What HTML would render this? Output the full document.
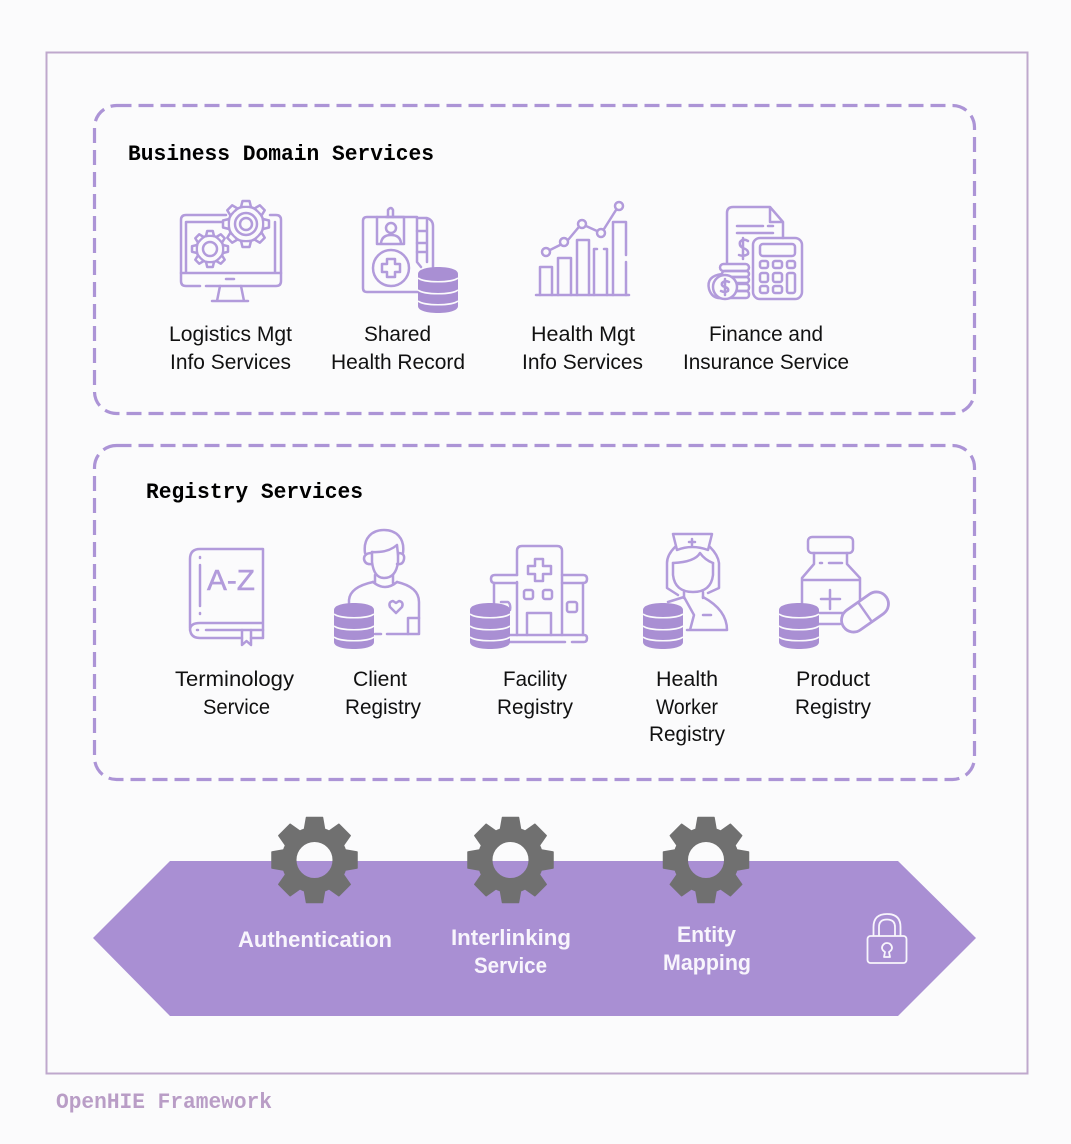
<!DOCTYPE html>
<html>
<head>
<meta charset="utf-8">
<style>
html,body{margin:0;padding:0;background:#fbfbfc;}
svg{display:block;}
.l{font-family:"Liberation Sans",sans-serif;font-size:21px;fill:#111;}
.b{font-family:"Liberation Sans",sans-serif;font-size:22px;font-weight:bold;fill:#f8f5fc;}
.t{font-family:"Liberation Mono",monospace;font-size:22px;font-weight:bold;fill:#000;}
.i{fill:none;stroke:#b29bdb;stroke-width:2.5;stroke-linecap:round;stroke-linejoin:round;}
</style>
</head>
<body>
<svg xmlns="http://www.w3.org/2000/svg" width="1071" height="1144" viewBox="0 0 1071 1144">
<defs>
  <filter id="s" x="-5%" y="-5%" width="110%" height="110%"><feGaussianBlur stdDeviation="0.35"/></filter>
  <g id="db">
    <path d="M0 7C0 2 10 0 20 0S40 2 40 7V39C40 44 30 46 20 46S0 44 0 39Z" fill="#a98fd3"/>
    <path d="M0 11C6 16 34 16 40 11M0 23C6 28 34 28 40 23M0 34C6 39 34 39 40 34" fill="none" stroke="#fbfbfc" stroke-width="1.6"/>
  </g>
  <polygon id="gt" points="-10,-31 -8,-42.500 8,-42.500 10,-31" fill="#707070" stroke="#707070" stroke-width="1.500" stroke-linejoin="round"/>
  <g id="gear">
    <circle r="25.500" fill="none" stroke="#707070" stroke-width="15"/>
    <use href="#gt"/><use href="#gt" transform="rotate(45)"/><use href="#gt" transform="rotate(90)"/><use href="#gt" transform="rotate(135)"/>
    <use href="#gt" transform="rotate(180)"/><use href="#gt" transform="rotate(225)"/><use href="#gt" transform="rotate(270)"/><use href="#gt" transform="rotate(315)"/>
  </g>
  <polygon id="bt" points="-5,-17 -3.500,-23 3.500,-23 5,-17" fill="#fbfbfc" stroke="#b29bdb" stroke-width="2.500" stroke-linejoin="round"/>
  <g id="gbig">
    <circle r="17.500" fill="#fbfbfc" stroke="#b29bdb" stroke-width="2.500"/>
    <use href="#bt"/><use href="#bt" transform="rotate(45)"/><use href="#bt" transform="rotate(90)"/><use href="#bt" transform="rotate(135)"/>
    <use href="#bt" transform="rotate(180)"/><use href="#bt" transform="rotate(225)"/><use href="#bt" transform="rotate(270)"/><use href="#bt" transform="rotate(315)"/>
    <circle r="16" fill="#fbfbfc"/>
  </g>
  <polygon id="st" points="-4,-13 -2.800,-18 2.800,-18 4,-13" fill="#fbfbfc" stroke="#b29bdb" stroke-width="2.500" stroke-linejoin="round"/>
  <g id="gsmall">
    <circle r="13.500" fill="#fbfbfc" stroke="#b29bdb" stroke-width="2.500"/>
    <use href="#st"/><use href="#st" transform="rotate(45)"/><use href="#st" transform="rotate(90)"/><use href="#st" transform="rotate(135)"/>
    <use href="#st" transform="rotate(180)"/><use href="#st" transform="rotate(225)"/><use href="#st" transform="rotate(270)"/><use href="#st" transform="rotate(315)"/>
    <circle r="12" fill="#fbfbfc"/>
  </g>
</defs>

<rect width="1071" height="1144" fill="#fbfbfc"/>
<rect x="46.500" y="52.500" width="981" height="1021" fill="none" stroke="#bfa8cd" stroke-width="2"/>
<rect x="94.500" y="105.500" width="880" height="308" rx="22" fill="none" stroke="#ac94d6" stroke-width="3.200" stroke-dasharray="15 7"/>
<rect x="94.500" y="445.500" width="880" height="334" rx="22" fill="none" stroke="#ac94d6" stroke-width="3.200" stroke-dasharray="15 7"/>

<text class="t" x="128" y="160" textLength="306" lengthAdjust="spacingAndGlyphs">Business Domain Services</text>
<text class="t" x="146" y="498" textLength="217" lengthAdjust="spacingAndGlyphs">Registry Services</text>
<text class="t" x="56" y="1108" textLength="216" lengthAdjust="spacingAndGlyphs" style="fill:#b99dc6">OpenHIE Framework</text>

<g filter="url(#s)">
<!-- Monitor icon -->
<g class="i">
  <path d="M226 215H186Q181 215 181 220V281Q181 286 186 286H200M206 286H276Q281 286 281 281V220Q281 215 276 215H270"/>
  <path d="M186 273V222H224M275 222V273M181 273H281M226 279H234"/>
  <path d="M220 286L217 301M241 286L244 301M212 301H248"/>
</g>
<use href="#gbig" x="246" y="224"/>
<circle cx="246" cy="224" r="11" class="i"/>
<circle cx="246" cy="224" r="6" class="i"/>
<use href="#gsmall" x="210" y="249"/>
<circle cx="210" cy="249" r="7" class="i"/>

<!-- Shared record icon -->
<g class="i">
  <path d="M377 217H367Q363 217 363 221V288Q363 292 367 292H418"/>
  <path d="M386 217H417V262L421 267"/>
  <path d="M417 218H427Q433 220 433 226V267M427 219V262M417 231H427M417 243H427M417 252H427"/>
  <path d="M388 217V210Q391 206 393 210V217"/>
  <rect x="377" y="217" width="27" height="27"/>
  <circle cx="391" cy="228" r="5"/>
  <path d="M381 243Q382 235 391 235Q400 235 401 243"/>
  <circle cx="391" cy="268" r="18"/>
  <path d="M387 259H395V264H400V272H395V277H387V272H382V264H387Z"/>
</g>
<use href="#db" x="418" y="267"/>

<!-- Chart icon -->
<g class="i">
  <path d="M536 295H629"/>
  <path d="M540 295V267H552V295M558 295V258H571V295M577 295V240H589V295M594 295V249H597M604 249H607V295M613 295V222H626V255M626 262V295"/>
  <path d="M550 250L560 245M568 240L578 228M586 226L597 231M604 229L616 210"/>
  <circle cx="546" cy="252" r="4"/><circle cx="564" cy="242" r="4"/><circle cx="582" cy="224" r="4"/><circle cx="601" cy="233" r="4"/><circle cx="619" cy="206" r="4"/>
</g>

<!-- Finance icon -->
<g class="i">
  <path d="M727 263V213Q727 207 733 207H770L783 222V238M770 207V222H783"/>
  <path d="M737 226H763M768 226H773M737 233H773"/>
  <path d="M748 241Q743 238 740 242Q739 246 743 248Q749 250 748 254Q744 257 739 255M743 238V259"/>
  <rect x="753" y="238" width="49" height="61" rx="7"/>
  <rect x="760" y="244" width="35" height="12" rx="3"/>
  <rect x="760" y="261" width="8" height="7" rx="2"/><rect x="773" y="261" width="9" height="7" rx="2"/><rect x="787" y="261" width="8" height="7" rx="2"/>
  <rect x="760" y="273" width="8" height="9" rx="2"/><rect x="773" y="273" width="9" height="9" rx="2"/><rect x="787" y="273" width="8" height="20" rx="2"/>
  <rect x="760" y="286" width="8" height="7" rx="2"/><rect x="773" y="286" width="9" height="7" rx="2"/>
  <rect x="720" y="264" width="29" height="7" rx="3.500"/>
  <rect x="722" y="271" width="27" height="6" rx="3"/>
  <rect x="722" y="277" width="27" height="6" rx="3"/>
  <rect x="722" y="284" width="27" height="7" rx="3"/>
  <rect x="722" y="291" width="27" height="7" rx="3"/>
  <path d="M722 274Q706 276 709 289Q712 299 722 298" fill="#fbfbfc"/>
  <circle cx="725" cy="287" r="12" fill="#fbfbfc"/>
  <path d="M729 282Q725 280 722 283Q721 286 725 287Q729 288 728 291Q725 293 721 291M725 279V295"/>
</g>

<!-- Book icon -->
<g class="i">
  <path d="M263 549H200Q190 549 190 559V628Q190 638 200 638H242M251 638H263V623H200Q190 623 190 630M263 623V549"/>
  <path d="M200 557V558M200 565V606M200 613V614M197 630H198M206 630H263"/>
  <path d="M242 630V645L246.500 641L251 645V630"/>
</g>
<text x="207" y="590" textLength="48" lengthAdjust="spacingAndGlyphs" style="font-family:'Liberation Sans',sans-serif;font-size:29px;fill:#b29bdb;stroke:#b29bdb;stroke-width:.5">A-Z</text>

<!-- Client icon -->
<g class="i">
  <path d="M365 553C363 538 372 530 384 530C396 530 405 538 403 553"/>
  <path d="M372 552Q388 553 397 545L398 555"/>
  <path d="M372 552V562Q374 578 384 578Q396 578 398 562V555"/>
  <path d="M372 553Q364 553 364 559Q365 565 372 564M398 553Q405 553 404 559Q403 565 397 564"/>
  <path d="M375 575V583M393 575V583M373 582Q385 592 397 582"/>
  <path d="M349 603V600Q350 587 373 582M397 582Q419 587 419 602V634H387M381 634H375"/>
  <path d="M396 613L390 607Q388 602 393 601L396 603L399 601Q404 602 402 607Z"/>
  <path d="M408 634V618H419"/>
</g>
<use href="#db" x="334" y="603"/>

<!-- Hospital icon -->
<g class="i">
  <path d="M517 575V551Q517 546 522 546H557Q562 546 562 551V635"/>
  <path d="M517 582V635"/>
  <path d="M535 559H543V566H551V574H543V581H535V574H528V566H535Z"/>
  <rect x="524" y="590" width="9" height="9" rx="2"/><rect x="543" y="590" width="9" height="9" rx="2"/>
  <path d="M527 635V613H551V635"/>
  <path d="M517 575H495Q491 575 491 579Q491 583 495 583H517M562 575H583Q587 575 587 579Q587 583 583 583H562"/>
  <path d="M494 583V604M583 583V635"/>
  <rect x="567" y="602" width="10" height="10" rx="2"/>
  <path d="M501 602H508Q511 604 510 610"/>
  <path d="M510 635H584Q587 635 587 638Q587 642 584 642H572M565 642H510"/>
</g>
<use href="#db" x="470" y="603"/>

<!-- Nurse icon -->
<g class="i">
  <path d="M673 534H712L708 550Q692 544 677 550Z"/>
  <path d="M692 539V545M689 542H695"/>
  <path d="M675 547Q667 555 667 563V588L678 595M710 547Q718 555 719 563V588L708 593"/>
  <path d="M673 563Q695 562 700 553Q705 560 713 563"/>
  <path d="M673 563V575Q675 592 693 592Q711 592 713 575V563"/>
  <path d="M684 592V598M703 592V598"/>
  <path d="M668 602L684 597L694 615L690 630M703 597Q727 610 727 630H687"/>
  <path d="M703 615H711"/>
</g>
<use href="#db" x="643" y="603"/>

<!-- Product icon -->
<g class="i">
  <rect x="808" y="537" width="45" height="16" rx="4"/>
  <path d="M814 553V564L802 578V605M847 553V564L860 578V600M802 580H860"/>
  <path d="M820 563H822M829 563H842"/>
  <path d="M830 590V609M821 599H840"/>
  <path d="M819 613H843M819 624H840"/>
</g>
<g transform="rotate(-35 865 612)">
  <rect x="839" y="600" width="52" height="24" rx="12" fill="#fbfbfc" stroke="#b29bdb" stroke-width="2.800"/>
  <path d="M865 600V624" fill="none" stroke="#b29bdb" stroke-width="2.500"/>
</g>
<use href="#db" x="779" y="603"/>
</g>

<!-- Labels -->
<g>
<text class="l" x="169" y="341" textLength="123" lengthAdjust="spacingAndGlyphs">Logistics Mgt</text>
<text class="l" x="170" y="369" textLength="121" lengthAdjust="spacingAndGlyphs">Info Services</text>
<text class="l" x="364" y="341" textLength="67" lengthAdjust="spacingAndGlyphs">Shared</text>
<text class="l" x="331" y="369" textLength="134" lengthAdjust="spacingAndGlyphs">Health Record</text>
<text class="l" x="531" y="341" textLength="104" lengthAdjust="spacingAndGlyphs">Health Mgt</text>
<text class="l" x="522" y="369" textLength="121" lengthAdjust="spacingAndGlyphs">Info Services</text>
<text class="l" x="709" y="341" textLength="114" lengthAdjust="spacingAndGlyphs">Finance and</text>
<text class="l" x="683" y="369" textLength="166" lengthAdjust="spacingAndGlyphs">Insurance Service</text>
<text class="l" x="175" y="686" textLength="119" lengthAdjust="spacingAndGlyphs">Terminology</text>
<text class="l" x="203" y="714" textLength="67" lengthAdjust="spacingAndGlyphs">Service</text>
<text class="l" x="353" y="686" textLength="54" lengthAdjust="spacingAndGlyphs">Client</text>
<text class="l" x="345" y="714" textLength="76" lengthAdjust="spacingAndGlyphs">Registry</text>
<text class="l" x="503" y="686" textLength="64" lengthAdjust="spacingAndGlyphs">Facility</text>
<text class="l" x="497" y="714" textLength="76" lengthAdjust="spacingAndGlyphs">Registry</text>
<text class="l" x="656" y="686" textLength="62" lengthAdjust="spacingAndGlyphs">Health</text>
<text class="l" x="656" y="714" textLength="62" lengthAdjust="spacingAndGlyphs">Worker</text>
<text class="l" x="649" y="741" textLength="76" lengthAdjust="spacingAndGlyphs">Registry</text>
<text class="l" x="796" y="686" textLength="74" lengthAdjust="spacingAndGlyphs">Product</text>
<text class="l" x="795" y="714" textLength="76" lengthAdjust="spacingAndGlyphs">Registry</text>
</g>

<!-- Banner -->
<polygon points="93,938 170,861 898,861 976,938 898,1016 170,1016" fill="#a98fd3"/>
<use href="#gear" x="314.500" y="860"/>
<use href="#gear" x="510.500" y="860"/>
<use href="#gear" x="706" y="860"/>
<text class="b" x="238" y="947" textLength="154" lengthAdjust="spacingAndGlyphs">Authentication</text>
<text class="b" x="451" y="945" textLength="120" lengthAdjust="spacingAndGlyphs">Interlinking</text>
<text class="b" x="474" y="973" textLength="73" lengthAdjust="spacingAndGlyphs">Service</text>
<text class="b" x="677" y="942" textLength="59" lengthAdjust="spacingAndGlyphs">Entity</text>
<text class="b" x="663" y="970" textLength="88" lengthAdjust="spacingAndGlyphs">Mapping</text>

<!-- Lock -->
<g fill="none" stroke="#f8f5fc" stroke-width="1.800" stroke-linejoin="round">
  <rect x="867.500" y="936" width="39" height="27" rx="3"/>
  <path d="M873.500 936V927Q873.500 914 887 914Q900.500 914 900.500 927V936"/>
  <path d="M879 936V927Q879 919.500 887 919.500Q895 919.500 895 927V936"/>
  <path d="M884 957L885 952Q882 950 882 948A5 5 0 0 1 892 948Q892 950 889 952L890 957Z"/>
</g>
</svg>
</body>
</html>
